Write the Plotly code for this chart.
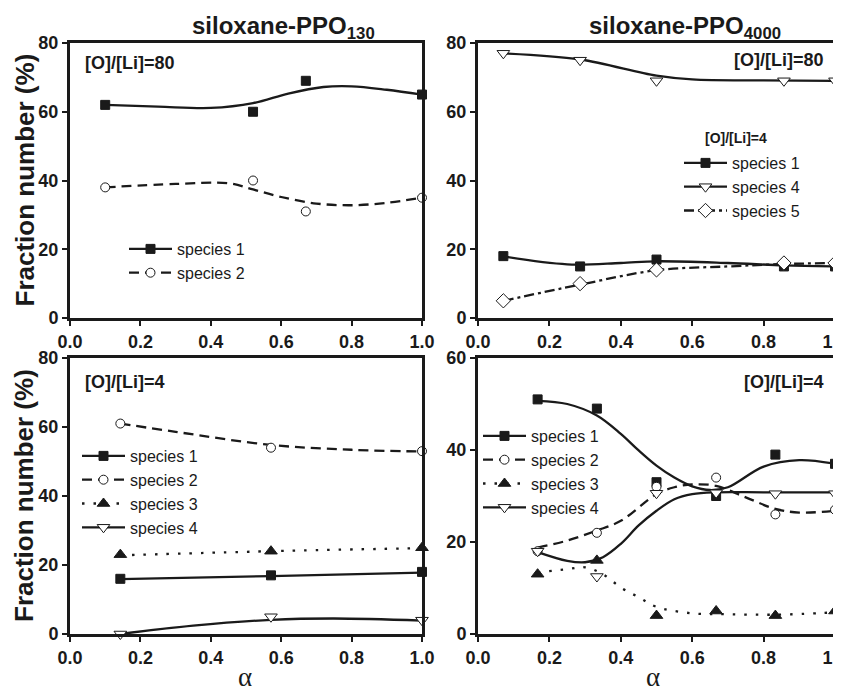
import plotly.graph_objects as go

INK = "#1a1a1a"
# The page body adds an 8px margin, so the figure is drawn 8px in from the window corner.
OFF = 8
W, H = 841 - OFF, 694 - OFF

# ---------------- data: top-left (siloxane-PPO130, [O]/[Li]=80) ----------------
tl_x = [0.1, 0.52, 0.67, 1.0]
tl_s1 = [62, 60, 69, 65]
tl_s2 = [38, 40, 31, 35]
tl_s1_fit_x = [0.1, 0.25, 0.4, 0.52, 0.62, 0.72, 0.8, 0.9, 1.0]
tl_s1_fit_y = [62, 61.5, 61.1, 62.5, 65.3, 67.2, 67.4, 66.4, 65]
tl_s2_fit_x = [0.1, 0.3, 0.45, 0.52, 0.6, 0.7, 0.8, 0.9, 1.0]
tl_s2_fit_y = [38, 39, 39.2, 37.4, 35.2, 33.3, 32.8, 33.5, 35]

# ---------------- data: top-right (siloxane-PPO4000) ----------------
tr_x = [0.071, 0.286, 0.5, 0.857, 1.0]
tr_s1 = [18, 15, 17, 15, 15]
tr_s4 = [77, 75, 69, 69, 69]
tr_s5 = [5, 10, 14, 16, 16]
tr_s1_fit_x = [0.071, 0.25, 0.4, 0.5, 0.7, 0.857, 1.0]
tr_s1_fit_y = [17.9, 15.6, 16.0, 16.5, 16.0, 15.3, 15.0]
tr_s4_fit_x = [0.071, 0.286, 0.5, 0.6, 0.8, 1.0]
tr_s4_fit_y = [77, 75.2, 70.5, 69.4, 69.1, 69]
tr_s5_fit_x = [0.071, 0.286, 0.5, 0.7, 0.857, 1.0]
tr_s5_fit_y = [5, 9.7, 13.9, 15.0, 15.7, 16]

# ---------------- data: bottom-left (siloxane-PPO130, [O]/[Li]=4) ----------------
bl_x = [0.143, 0.571, 1.0]
bl_s1 = [16, 17, 18]
bl_s2 = [61, 54, 53]
bl_s3 = [23, 24, 25]
bl_s4 = [0, 5, 4]
bl_s1_fit_x = [0.143, 0.571, 1.0]
bl_s1_fit_y = [15.9, 16.8, 17.8]
bl_s2_fit_x = [0.143, 0.3, 0.571, 0.8, 1.0]
bl_s2_fit_y = [61, 58.6, 54.8, 53.4, 52.9]
bl_s3_fit_x = [0.143, 0.571, 1.0]
bl_s3_fit_y = [22.8, 24.0, 24.9]
bl_s4_fit_x = [0.143, 0.35, 0.571, 0.75, 1.0]
bl_s4_fit_y = [0, 2.4, 4.1, 4.5, 3.9]

# ---------------- data: bottom-right (siloxane-PPO4000, [O]/[Li]=4) ----------------
br_x = [0.167, 0.333, 0.5, 0.667, 0.833, 1.0]
br_s1 = [51, 49, 33, 30, 39, 37]
br_s2 = [18, 22, 32, 34, 26, 27]
br_s3 = [13, 16, 4, 5, 4, 5]
br_s4 = [18, 12.5, 30.6, 30.7, 30.5, 30.5]
br_s1_fit_x = [0.167, 0.25, 0.333, 0.4, 0.45, 0.5, 0.55, 0.6, 0.65, 0.7, 0.8, 0.9, 1.0]
br_s1_fit_y = [50.7, 50.0, 47.5, 43.5, 39.9, 36.6, 34.0, 32.1, 31.3, 31.9, 36.4, 37.8, 37.0]
br_s2_fit_x = [0.167, 0.25, 0.333, 0.4, 0.5, 0.55, 0.6, 0.667, 0.75, 0.833, 0.9, 1.0]
br_s2_fit_y = [18.8, 20.3, 22.5, 24.6, 30.4, 31.9, 32.5, 32.2, 29.7, 27.2, 26.4, 26.8]
br_s3_fit_x = [0.167, 0.25, 0.3, 0.35, 0.4, 0.45, 0.5, 0.6, 0.7, 0.833, 1.0]
br_s3_fit_y = [13.4, 14.1, 14.5, 13.0, 10.1, 8.0, 5.9, 4.5, 4.3, 4.2, 4.7]
br_s4_fit_x = [0.167, 0.25, 0.3, 0.35, 0.4, 0.45, 0.5, 0.55, 0.6, 0.667, 0.8, 1.0]
br_s4_fit_y = [17.8, 15.9, 15.6, 16.7, 19.6, 23.6, 26.8, 29.3, 30.4, 30.8, 30.8, 30.8]

x_ticks = [0.0, 0.2, 0.4, 0.6, 0.8, 1.0]
y_ticks_80 = [0, 20, 40, 60, 80]
y_ticks_60 = [0, 20, 40, 60]

STYLE = {
    "species 1": dict(symbol="square", fill=INK, dash="solid", size=9),
    "species 2": dict(symbol="circle", fill="white", dash="10px,6px", size=9),
    "species 3": dict(symbol="triangle-up", fill=INK, dash="2.5px,9px", size=11),
    "species 4": dict(symbol="triangle-down", fill="white", dash="solid", size=11),
    "species 5": dict(symbol="diamond", fill="white", dash="10px,4px,3px,4px", size=11),
}

fig = go.Figure()


def add_series(name, px, py, fx, fy, ax, legend):
    st = STYLE[name]
    xa, ya = ("x", "y") if ax == 1 else (f"x{ax}", f"y{ax}")
    fig.add_trace(go.Scatter(x=fx, y=fy, mode="lines", xaxis=xa, yaxis=ya,
                             line=dict(color=INK, width=2.3, dash=st["dash"], shape="spline", smoothing=1.0),
                             showlegend=False, hoverinfo="skip"))
    fig.add_trace(go.Scatter(x=px, y=py, mode="markers", xaxis=xa, yaxis=ya, cliponaxis=False,
                             marker=dict(symbol=st["symbol"], size=st["size"], color=st["fill"],
                                         line=dict(color=INK, width=1)),
                             showlegend=False))
    if legend:
        fig.add_trace(go.Scatter(x=[None], y=[None], mode="lines+markers", name=name,
                                 xaxis=xa, yaxis=ya, legend=legend,
                                 line=dict(color=INK, width=2.3, dash=st["dash"]),
                                 marker=dict(symbol=st["symbol"], size=st["size"], color=st["fill"],
                                             line=dict(color=INK, width=1))))


add_series("species 1", tl_x, tl_s1, tl_s1_fit_x, tl_s1_fit_y, 1, "legend")
add_series("species 2", tl_x, tl_s2, tl_s2_fit_x, tl_s2_fit_y, 1, "legend")

add_series("species 1", tr_x, tr_s1, tr_s1_fit_x, tr_s1_fit_y, 2, "legend2")
add_series("species 4", tr_x, tr_s4, tr_s4_fit_x, tr_s4_fit_y, 2, "legend2")
add_series("species 5", tr_x, tr_s5, tr_s5_fit_x, tr_s5_fit_y, 2, "legend2")

add_series("species 1", bl_x, bl_s1, bl_s1_fit_x, bl_s1_fit_y, 3, "legend3")
add_series("species 2", bl_x, bl_s2, bl_s2_fit_x, bl_s2_fit_y, 3, "legend3")
add_series("species 3", bl_x, bl_s3, bl_s3_fit_x, bl_s3_fit_y, 3, "legend3")
add_series("species 4", bl_x, bl_s4, bl_s4_fit_x, bl_s4_fit_y, 3, "legend3")

add_series("species 1", br_x, br_s1, br_s1_fit_x, br_s1_fit_y, 4, "legend4")
add_series("species 2", br_x, br_s2, br_s2_fit_x, br_s2_fit_y, 4, "legend4")
add_series("species 3", br_x, br_s3, br_s3_fit_x, br_s3_fit_y, 4, "legend4")
add_series("species 4", br_x, br_s4, br_s4_fit_x, br_s4_fit_y, 4, "legend4")


def px_x(p):
    return (p - OFF) / W


def px_y(p):
    return 1 - (p - OFF) / H


FONT = "Liberation Sans, Arial, sans-serif"
tickfont = dict(family=FONT, size=18, color=INK, weight="bold")


def xax(l, r, anchor):
    return dict(domain=[px_x(l), px_x(r)], range=[0, 1], tickvals=x_ticks, tickformat=".1f",
                anchor=anchor, automargin=False, ticklabeloverflow="allow",
                showline=True, linewidth=3, linecolor=INK, mirror=True, ticks="outside",
                ticklen=5, tickwidth=2, tickcolor=INK, tickfont=tickfont, showgrid=False,
                zeroline=False, fixedrange=True)


def yax(t, b, top, ticks, anchor):
    return dict(domain=[px_y(b), px_y(t)], range=[0, top], tickvals=ticks, anchor=anchor,
                automargin=False,
                showline=True, linewidth=3, linecolor=INK, mirror=True, ticks="outside",
                ticklen=5, tickwidth=2, tickcolor=INK, tickfont=tickfont, showgrid=False,
                zeroline=False, fixedrange=True)


LX0, LX1, RX0, RX1 = 70, 422, 478, 835
TY0, TY1, BY0, BY1 = 43, 318, 358, 634

legfont = dict(family=FONT, size=16, color=INK)


def leg(xp, yp):
    return dict(x=px_x(xp), y=px_y(yp), xanchor="left", yanchor="top", bgcolor="rgba(0,0,0,0)",
                font=legfont, itemwidth=43, tracegroupgap=0)


fig.update_layout(
    width=W, height=H, autosize=False,
    margin=dict(l=0, r=0, t=0, b=0, autoexpand=False),
    paper_bgcolor="white", plot_bgcolor="white",
    xaxis=xax(LX0, LX1, "y"), yaxis=yax(TY0, TY1, 80, y_ticks_80, "x"),
    xaxis2=xax(RX0, RX1, "y2"), yaxis2=yax(TY0, TY1, 80, y_ticks_80, "x2"),
    xaxis3=xax(LX0, LX1, "y3"), yaxis3=yax(BY0, BY1, 80, y_ticks_80, "x3"),
    xaxis4=xax(RX0, RX1, "y4"), yaxis4=yax(BY0, BY1, 60, y_ticks_60, "x4"),
    legend=leg(124, 232),
    legend2=leg(679, 146),
    legend3=leg(77, 439),
    legend4=leg(478, 419),
    showlegend=True,
)

ann = []


def note(text, x, y, size, xanchor="left", bold=True, family=FONT, angle=0):
    ann.append(dict(text=text, x=px_x(x), y=px_y(y), xref="paper", yref="paper",
                    xanchor=xanchor, yanchor="middle", showarrow=False, textangle=angle,
                    font=dict(family=family, size=size, color=INK, weight="bold" if bold else "normal")))


note("[O]/[Li]=80", 83, 63, 18)
note("[O]/[Li]=80", 826, 60, 18, xanchor="right")
note("[O]/[Li]=4", 703, 138, 14)
note("[O]/[Li]=4", 83, 382, 18)
note("[O]/[Li]=4", 826, 382, 18, xanchor="right")
note("siloxane-PPO<sub>130</sub>", 283, 28, 24, xanchor="center")
note("siloxane-PPO<sub>4000</sub>", 685, 28, 24, xanchor="center")
note("Fraction number (%)", 24, (TY0 + TY1) / 2, 26, xanchor="center", angle=-90)
note("Fraction number (%)", 24, (BY0 + BY1) / 2, 26, xanchor="center", angle=-90)
note("α", 245, 677, 27, xanchor="center", bold=False, family="Liberation Serif, serif")
note("α", 653, 677, 27, xanchor="center", bold=False, family="Liberation Serif, serif")

fig.update_layout(annotations=ann)

fig.write_html("out.html")
